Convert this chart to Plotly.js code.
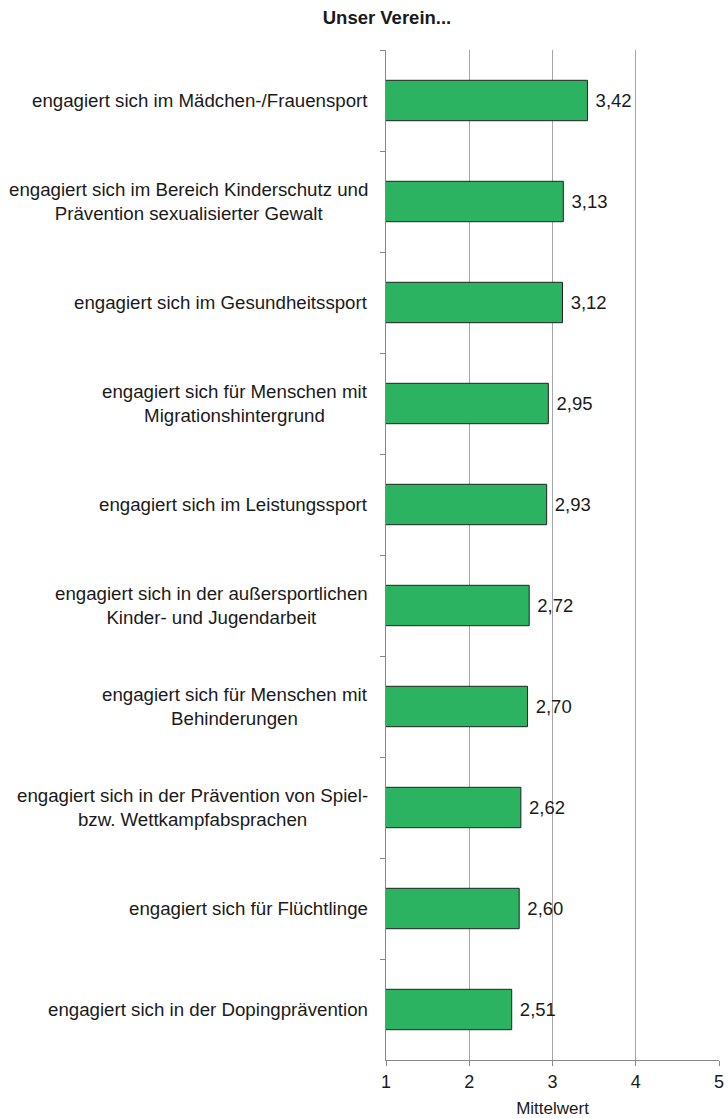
<!DOCTYPE html>
<html>
<head>
<meta charset="utf-8">
<script src="https://cdn.plot.ly/plotly-3.0.1.min.js"></script>
<style>
  html, body { margin: 0; padding: 0; background: #fff; }
  #chart { width: 728px; height: 1118px; }
</style>
</head>
<body>
<div id="chart"></div>
<script>
// Kategorien (von oben nach unten) und Mittelwerte
const categories = [
    'engagiert sich im Mädchen-/Frauensport',
    'engagiert sich im Bereich Kinderschutz und<br>Prävention sexualisierter Gewalt',
    'engagiert sich im Gesundheitssport',
    'engagiert sich für Menschen mit<br>Migrationshintergrund',
    'engagiert sich im Leistungssport',
    'engagiert sich in der außersportlichen<br>Kinder- und Jugendarbeit',
    'engagiert sich für Menschen mit<br>Behinderungen',
    'engagiert sich in der Prävention von Spiel-<br>bzw. Wettkampfabsprachen',
    'engagiert sich für Flüchtlinge',
    'engagiert sich in der Dopingprävention'
];
const means = [3.42, 3.13, 3.12, 2.95, 2.93, 2.72, 2.70, 2.62, 2.60, 2.51];
const xTicks = [1, 2, 3, 4, 5];

const FONT = 'Liberation Sans, Arial, sans-serif';
const TEXT = '#1a1a1a';

const trace = {
    type: 'bar',
    orientation: 'h',
    y: categories,
    x: means,
    width: 0.4,
    marker: {
        color: '#2bb361',
        line: { color: '#222', width: 1 }
    },
    // leading nbsp pushes the value a bit away from the bar end
    texttemplate: '&nbsp;%{x:.2f}',
    textposition: 'outside',
    cliponaxis: false,
    textfont: { family: FONT, size: 18.5, color: TEXT },
    hoverinfo: 'none'
};

// category labels as annotations so the lines stay centred
const labelNotes = categories.map(c => ({
    xref: 'paper',
    yref: 'y',
    x: 0,
    y: c,
    xshift: -16,
    xanchor: 'right',
    yanchor: 'middle',
    align: 'center',
    showarrow: false,
    text: c,
    font: { family: FONT, size: 18.7, color: TEXT }
}));

const layout = {
    width: 728,
    height: 1118,
    margin: { l: 386, r: 9, t: 50, b: 58 },
    paper_bgcolor: '#fff',
    plot_bgcolor: '#fff',
    separators: ',.',
    showlegend: false,
    title: {
        text: '<b>Unser Verein...</b>',
        font: { family: FONT, size: 18.5, color: TEXT },
        xref: 'paper',
        x: 0.003,
        xanchor: 'center',
        yref: 'container',
        y: 1 - 18 / 1118,
        yanchor: 'middle'
    },
    xaxis: {
        range: [1, 5],
        tickvals: xTicks,
        ticktext: xTicks.map(String),
        showgrid: true,
        gridcolor: '#a6a6a6',
        gridwidth: 1,
        zeroline: false,
        showline: true,
        linecolor: '#888',
        linewidth: 1,
        ticks: 'outside',
        ticklen: 5,
        tickcolor: '#888',
        tickfont: { family: FONT, size: 18, color: TEXT },
        title: {
            text: 'Mittelwert',
            font: { family: FONT, size: 17, color: TEXT },
            standoff: 11
        }
    },
    yaxis: {
        type: 'category',
        autorange: 'reversed',
        showticklabels: false,
        showgrid: false,
        zeroline: false,
        showline: true,
        linecolor: '#888',
        linewidth: 1,
        ticks: 'outside',
        tickson: 'boundaries',
        ticklen: 5,
        tickcolor: '#888'
    },
    annotations: labelNotes
};

Plotly.newPlot('chart', [trace], layout, { displayModeBar: false, staticPlot: true });
</script>
</body>
</html>
